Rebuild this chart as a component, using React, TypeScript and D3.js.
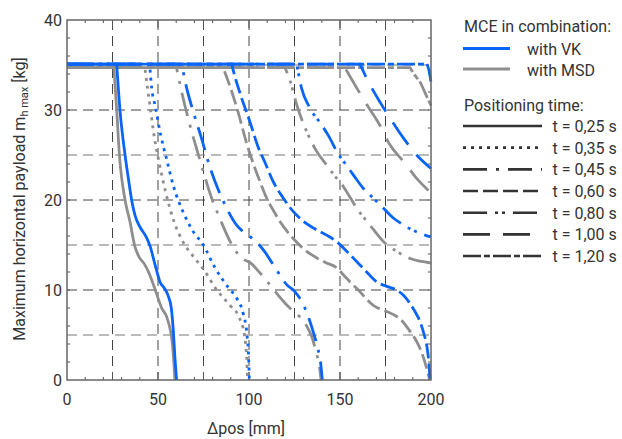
import React from 'react';
import * as d3 from 'd3';

const W = 622;
const H = 439;
const PL = 67, PR = 431, PT = 20, PB = 380;

const xTickLabels = [0, 50, 100, 150, 200];
const yTickLabels = [0, 10, 20, 30, 40];
const xGridVals = [25, 50, 75, 100, 125, 150, 175];
const yGridVals = [5, 10, 15, 20, 25, 30, 35];
const xMinorTicks = d3.range(10, 200, 10);
const yMinorTicks = d3.range(2, 40, 2);

const legendTitle1 = 'MCE in combination:';
const legendMce = ['with VK', 'with MSD'];
const legendTitle2 = 'Positioning time:';
const timeLabels = ['t = 0,25 s', 't = 0,35 s', 't = 0,45 s', 't = 0,60 s', 't = 0,80 s', 't = 1,00 s', 't = 1,20 s'];
const dashPatterns = ['', '3,5', '24,9,3,9', '15,5', '24,8,3,4,3,8', '27,13', '18,3,6,3'];

const BLUE = '#0a64f5';
const GRAY = '#8e8e8e';

// VK (blue) series: [mm, kg]
const vk025: [number, number][] = [[0, 35.1], [27.3, 35.1], [29.1, 30], [31.9, 25], [34.0, 22], [35.5, 20], [37.5, 18.2], [40.1, 17.0], [43.5, 15.9], [45.6, 14.9], [48.4, 12.8], [51.3, 10.8], [53.5, 10.2], [55.5, 9.4], [57.3, 8.0], [58.5, 5.2], [59.3, 2.5], [60.2, 0]];
const vk035: [number, number][] = [[0, 35.1], [45.4, 35.1], [46.5, 32.5], [48.6, 30.3], [51.5, 27.2], [54.8, 24.5], [58.4, 21.6], [63.5, 18.8], [69, 16.6], [74.9, 15.0], [81, 12.6], [88.5, 10.3], [93.5, 9.0], [96.8, 7.4], [98.9, 5], [99.8, 2.5], [100.2, 0]];
const vk045: [number, number][] = [[0, 35.1], [63, 35.1], [65.8, 32.4], [69.4, 29.8], [74, 26.8], [78.6, 23.6], [83, 21.2], [87.7, 19.1], [93.2, 17.2], [98, 16.3], [103.3, 15.5], [108.8, 14.2], [114, 12.6], [120.7, 10.6], [125.3, 9.8], [129.8, 8.4], [133, 6.8], [135.5, 5.2], [137.8, 3.5], [139.3, 2], [140.3, 0]];
const vk060: [number, number][] = [[0, 35.1], [90.5, 35.1], [91.6, 34.2], [95.5, 31.6], [100.5, 28.7], [105, 25.9], [108.5, 24.3], [113.4, 22.0], [118.9, 20.2], [124.4, 18.7], [128.9, 17.8], [135.3, 16.9], [142.6, 16.1], [148, 15.4], [153.7, 14.3], [158, 13.4], [162.8, 12.4], [166.5, 11.6], [170.2, 10.9], [175.7, 10.4], [181, 10.0], [185, 9.4], [188.5, 8.5], [191.5, 7.5], [194, 6.5], [196, 5.2], [197.6, 3.9], [198.8, 2], [199.5, 0]];
const vk080: [number, number][] = [[0, 35.1], [126.2, 35.1], [128.9, 32.4], [133.5, 30.2], [139, 28.6], [143.8, 27.1], [148.5, 25.3], [153, 24.0], [157.3, 22.8], [162.8, 21.3], [168.3, 20.2], [173.8, 19.1], [179.3, 18.0], [183.5, 17.4], [187.5, 16.9], [194, 16.3], [200, 15.9]];
const vk100: [number, number][] = [[0, 35.1], [161, 35.1], [164.7, 33.5], [171.9, 30.9], [177.5, 29.1], [184.8, 26.9], [192.1, 25], [200, 23.5]];
const vk120: [number, number][] = [[0, 35.1], [197.8, 35.1], [199, 34.3], [200, 33.1]];

// MSD (gray) series: [mm, kg]
const msd025: [number, number][] = [[0, 34.7], [25.8, 34.7], [27.3, 30], [28.8, 25], [31.9, 20], [34.6, 17.6], [37.2, 14.9], [39.5, 13.7], [42.5, 12.9], [45, 11.9], [48.5, 10.0], [52, 8.0], [54.8, 7.0], [56.5, 5.8], [57.8, 4.2], [58.7, 2], [59.3, 0]];
const msd035: [number, number][] = [[0, 34.7], [42.8, 34.7], [44.2, 32.5], [45.6, 30.5], [47.8, 27.2], [50.6, 24.2], [54.3, 20.8], [58.8, 17.6], [63.9, 15.3], [69.5, 13.7], [75, 12.3], [82.3, 10.0], [89.6, 8.3], [94.5, 7.0], [97.5, 5], [98.7, 2.5], [99.2, 0]];
const msd045: [number, number][] = [[0, 34.7], [60.2, 34.7], [62.8, 32.2], [67.3, 28.5], [73.1, 24.4], [78.8, 20.6], [84.5, 17.7], [89.6, 15.4], [95.1, 13.7], [101.5, 12.9], [106, 11.9], [111, 10.7], [116.1, 9.4], [120, 8.5], [124, 7.7], [128, 7.0], [131.7, 6.0], [134.5, 4.8], [137, 3], [138.7, 1.5], [139.6, 0]];
const msd060: [number, number][] = [[0, 34.7], [85.8, 34.7], [89.6, 32.6], [94.1, 29.7], [98.7, 26.3], [103.3, 23.5], [106.5, 21.8], [109.7, 20.2], [113.5, 18.8], [117, 17.6], [124.4, 15.7], [131.7, 14.3], [137, 13.6], [142.6, 13.0], [148, 12.5], [151.8, 11.7], [156, 10.8], [161, 9.8], [165, 8.9], [168.3, 8.3], [172, 7.9], [175.7, 7.6], [180, 7.2], [183, 6.8], [186, 6.1], [188.5, 5.4], [191.5, 4.5], [194, 3.5], [196, 2.4], [197.6, 1.3], [199.3, 0]];
const msd080: [number, number][] = [[0, 34.7], [119.8, 34.7], [122.5, 33.3], [126.2, 30.6], [131.7, 27.6], [137.2, 25.4], [142.6, 23.9], [147, 22.7], [151.8, 21.5], [155.5, 20.3], [159.2, 19.1], [166.5, 17.2], [173.8, 15.4], [181.1, 14.3], [188.5, 13.5], [194, 13.2], [200, 13.0]];
const msd100: [number, number][] = [[0, 34.7], [152.7, 34.7], [157.3, 33.1], [164.7, 30.6], [171.9, 28.3], [177.5, 26.1], [184.8, 24.3], [192.1, 22.4], [200, 20.8]];
const msd120: [number, number][] = [[0, 34.7], [188.5, 34.7], [191, 33.9], [194, 33.1], [197, 31.8], [200, 30.5]];

const vkSeries = [vk025, vk035, vk045, vk060, vk080, vk100, vk120];
const msdSeries = [msd025, msd035, msd045, msd060, msd080, msd100, msd120];

const x = d3.scaleLinear().domain([0, 200]).range([PL, PR]);
const y = d3.scaleLinear().domain([0, 40]).range([PB, PT]);

const linLine = d3.line<[number, number]>().x(d => x(d[0])).y(d => y(d[1]));
const monoLine = d3.line<[number, number]>().x(d => x(d[0])).y(d => y(d[1])).curve(d3.curveMonotoneX);

function seriesPath(data: [number, number][]): string {
  const plateau = linLine(data.slice(0, 2)) || '';
  const rest = monoLine(data.slice(1)) || '';
  return plateau + rest.replace(/^M[^LC]*/, '');
}

const FONT = 'Roboto, "Noto Sans", sans-serif';
const TXT = '#333';

export default function App() {
  const legendX0 = 463, legendX1 = 542;
  const rowY0 = 126, rowStep = 21.67;
  return (
    <svg width={W} height={H} style={{ position: 'absolute', left: 0, top: 0, background: '#fff' }} fontFamily={FONT}>
      <defs>
        <clipPath id="plotClip">
          <rect x={PL} y={PT - 3} width={PR - PL + 1.5} height={PB - PT + 4.5} />
        </clipPath>
      </defs>
      {/* grid */}
      {xGridVals.map(v => (
        <line key={'gx' + v} x1={x(v)} x2={x(v)} y1={PT} y2={PB} stroke="#444" strokeWidth={1} strokeDasharray="10,6" />
      ))}
      {yGridVals.map(v => (
        <line key={'gy' + v} x1={PL} x2={PR} y1={y(v)} y2={y(v)} stroke={v % 10 === 0 ? '#444' : '#777'} strokeWidth={1} strokeDasharray="10,6" />
      ))}
      {/* minor ticks */}
      {xMinorTicks.map(v => (
        <g key={'tx' + v} stroke="#555" strokeWidth={1}>
          <line x1={x(v)} x2={x(v)} y1={PB} y2={PB - (v % 50 === 0 ? 8 : 3)} />
          <line x1={x(v)} x2={x(v)} y1={PT} y2={PT + (v % 50 === 0 ? 8 : 3)} />
        </g>
      ))}
      {[25, 75, 125, 175].map(v => (
        <g key={'txm' + v} stroke="#555" strokeWidth={1}>
          <line x1={x(v)} x2={x(v)} y1={PB} y2={PB - 8} />
          <line x1={x(v)} x2={x(v)} y1={PT} y2={PT + 8} />
        </g>
      ))}
      {yMinorTicks.map(v => (
        <g key={'ty' + v} stroke="#555" strokeWidth={1}>
          <line x1={PL} x2={PL + 3} y1={y(v)} y2={y(v)} />
          <line x1={PR} x2={PR - 3} y1={y(v)} y2={y(v)} />
        </g>
      ))}
      {/* curves */}
      <g clipPath="url(#plotClip)" fill="none" strokeWidth={2.8}>
        {msdSeries.map((s, i) => (
          <path key={'m' + i} d={seriesPath(s)} stroke={GRAY} strokeDasharray={dashPatterns[i] || undefined} />
        ))}
        {vkSeries.map((s, i) => (
          <path key={'v' + i} d={seriesPath(s)} stroke={BLUE} strokeDasharray={dashPatterns[i] || undefined} />
        ))}
      </g>
      {/* frame */}
      <rect x={PL} y={PT} width={PR - PL} height={PB - PT} fill="none" stroke="#666" strokeWidth={1.5} />
      {/* tick labels */}
      {xTickLabels.map(v => (
        <text key={'xl' + v} x={x(v)} y={405} textAnchor="middle" fontSize={16} fill={TXT}>{v}</text>
      ))}
      {yTickLabels.map(v => (
        <text key={'yl' + v} x={62} y={y(v) + 6} textAnchor="end" fontSize={16} fill={TXT}>{v}</text>
      ))}
      {/* axis titles */}
      <text x={246} y={434} textAnchor="middle" fontSize={16} fill={TXT}>Δpos [mm]</text>
      <text transform="rotate(-90)" x={-199} y={25} textAnchor="middle" fontSize={16} fill={TXT}>
        Maximum horizontal payload m<tspan fontSize={11} dy={3}>h max</tspan><tspan dy={-3}> [kg]</tspan>
      </text>
      {/* legend */}
      <text x={464} y={32} fontSize={16} fill={TXT}>{legendTitle1}</text>
      <line x1={legendX0} x2={510} y1={48.5} y2={48.5} stroke={BLUE} strokeWidth={2.8} />
      <text x={527} y={54.5} fontSize={16} fill={TXT}>{legendMce[0]}</text>
      <line x1={legendX0} x2={510} y1={69} y2={69} stroke={GRAY} strokeWidth={2.8} />
      <text x={527} y={76} fontSize={16} fill={TXT}>{legendMce[1]}</text>
      <text x={464} y={111} fontSize={16} fill={TXT}>{legendTitle2}</text>
      {timeLabels.map((t, i) => (
        <g key={'lg' + i}>
          <line x1={legendX0} x2={legendX1} y1={rowY0 + i * rowStep} y2={rowY0 + i * rowStep} stroke="#333" strokeWidth={2.6} strokeDasharray={dashPatterns[i] || undefined} />
          <text x={552.5} y={rowY0 + i * rowStep + 6} fontSize={16} fill={TXT}>{t}</text>
        </g>
      ))}
    </svg>
  );
}
